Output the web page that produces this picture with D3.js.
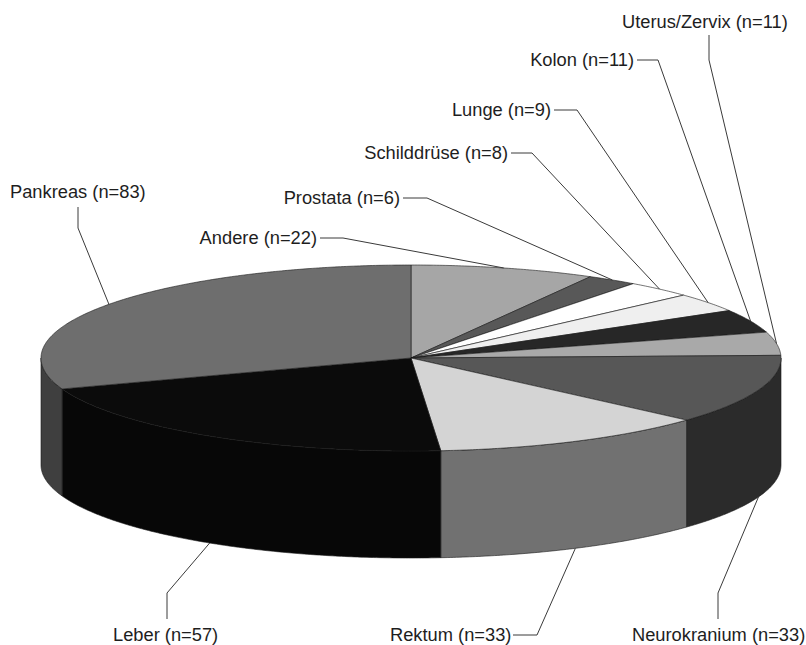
<!DOCTYPE html>
<html>
<head>
<meta charset="utf-8">
<script src="https://cdn.jsdelivr.net/npm/d3@7/dist/d3.min.js"></script>
<style>
  html, body { margin: 0; padding: 0; background: #fff; }
  svg { display: block; }
  text { font-family: "Liberation Sans", Arial, sans-serif; font-size: 18.3px; fill: #1e1e1e; }
</style>
</head>
<body>
<svg id="chart" width="806" height="645"></svg>
<script>
// Tumour sites, clockwise from 12 o'clock
const categories = ["Andere", "Prostata", "Schilddrüse", "Lunge", "Kolon",
                    "Uterus/Zervix", "Neurokranium", "Rektum", "Leber", "Pankreas"];
const counts = [22, 6, 8, 9, 11, 11, 33, 33, 57, 83];

// Grey fills for top faces and the darker rim
const topColors  = ["#a6a6a6", "#585858", "#ffffff", "#efefef", "#272727",
                    "#a9a9a9", "#575757", "#d4d4d4", "#0b0b0b", "#6e6e6e"];
const sideColors = ["#545454", "#2c2c2c", "#808080", "#787878", "#141414",
                    "#555555", "#2b2b2b", "#717171", "#070707", "#3f3f3f"];

// Geometry of the tilted disc
const cx = 411, cy = 358, rx = 370, ry = 93, depth = 107;

// Label placement: text anchor point and the bent part of each leader
const labelLayout = [
  { anchor: "end",   x: 317, y: 238, bend: [[320, 238], [343, 238]], bottom: false },
  { anchor: "end",   x: 400, y: 198, bend: [[403, 198], [427, 198]], bottom: false },
  { anchor: "end",   x: 508, y: 153, bend: [[511, 153], [532, 153]], bottom: false },
  { anchor: "end",   x: 551, y: 110, bend: [[554, 110], [577, 110]], bottom: false },
  { anchor: "end",   x: 634, y: 60,  bend: [[637, 60],  [658, 60]],  bottom: false },
  { anchor: "start", x: 622, y: 22,  bend: [[709, 35],  [709, 60]],  bottom: false },
  { anchor: "start", x: 632, y: 635, bend: [[718, 619], [718, 593]], bottom: true },
  { anchor: "start", x: 390, y: 635, bend: [[513, 635], [537, 635]], bottom: true },
  { anchor: "start", x: 113, y: 635, bend: [[167, 619], [167, 593]], bottom: true },
  { anchor: "start", x: 10,  y: 192, bend: [[78, 207],  [78, 228]],  bottom: false }
];

const rows = categories.map((c, i) => ({ name: c, n: counts[i], i }));

const pie = d3.pie().sort(null).value(d => d.n).startAngle(0).endAngle(2 * Math.PI);
const arcs = pie(rows);

// Point on the rim ellipse for a clockwise angle measured from 12 o'clock
const ex = a => cx + rx * Math.sin(a);
const ey = (a, dz = 0) => cy - ry * Math.cos(a) + dz;

function sample(a0, a1) {
  const steps = Math.max(2, Math.ceil(Math.abs(a1 - a0) / (Math.PI / 360)));
  return d3.range(steps + 1).map(k => a0 + (a1 - a0) * k / steps);
}

const line = d3.line();
const svg = d3.select("#chart");

// Visible rim (front half of the disc)
const gSide = svg.append("g");
arcs.forEach(d => {
  const s = Math.max(d.startAngle, Math.PI / 2);
  const e = Math.min(d.endAngle, 3 * Math.PI / 2);
  if (e <= s) return;
  const topPts = sample(s, e).map(a => [ex(a), ey(a)]);
  const botPts = sample(e, s).map(a => [ex(a), ey(a, depth)]);
  gSide.append("path")
    .attr("d", line(topPts.concat(botPts)) + "Z")
    .attr("fill", sideColors[d.data.i])
    .attr("stroke", "#1a1a1a")
    .attr("stroke-width", 0.6)
    .attr("stroke-linejoin", "round");
});

// Top faces
const gTop = svg.append("g");
arcs.forEach(d => {
  const pts = [[cx, cy]].concat(sample(d.startAngle, d.endAngle).map(a => [ex(a), ey(a)]));
  gTop.append("path")
    .attr("d", line(pts) + "Z")
    .attr("fill", topColors[d.data.i])
    .attr("stroke", "#1a1a1a")
    .attr("stroke-width", 0.6)
    .attr("stroke-linejoin", "round");
});

// Leader lines and labels
const gLab = svg.append("g");
arcs.forEach(d => {
  const L = labelLayout[d.data.i];
  const mid = (d.startAngle + d.endAngle) / 2;
  const target = [ex(mid), ey(mid, L.bottom ? depth : 0)];
  gLab.append("path")
    .attr("d", line(L.bend.concat([target])))
    .attr("fill", "none")
    .attr("stroke", "#3a3a3a")
    .attr("stroke-width", 1);
  gLab.append("text")
    .attr("x", L.x)
    .attr("y", L.y)
    .attr("dy", "0.35em")
    .attr("text-anchor", L.anchor)
    .text(`${d.data.name} (n=${d.data.n})`);
});
</script>
</body>
</html>
